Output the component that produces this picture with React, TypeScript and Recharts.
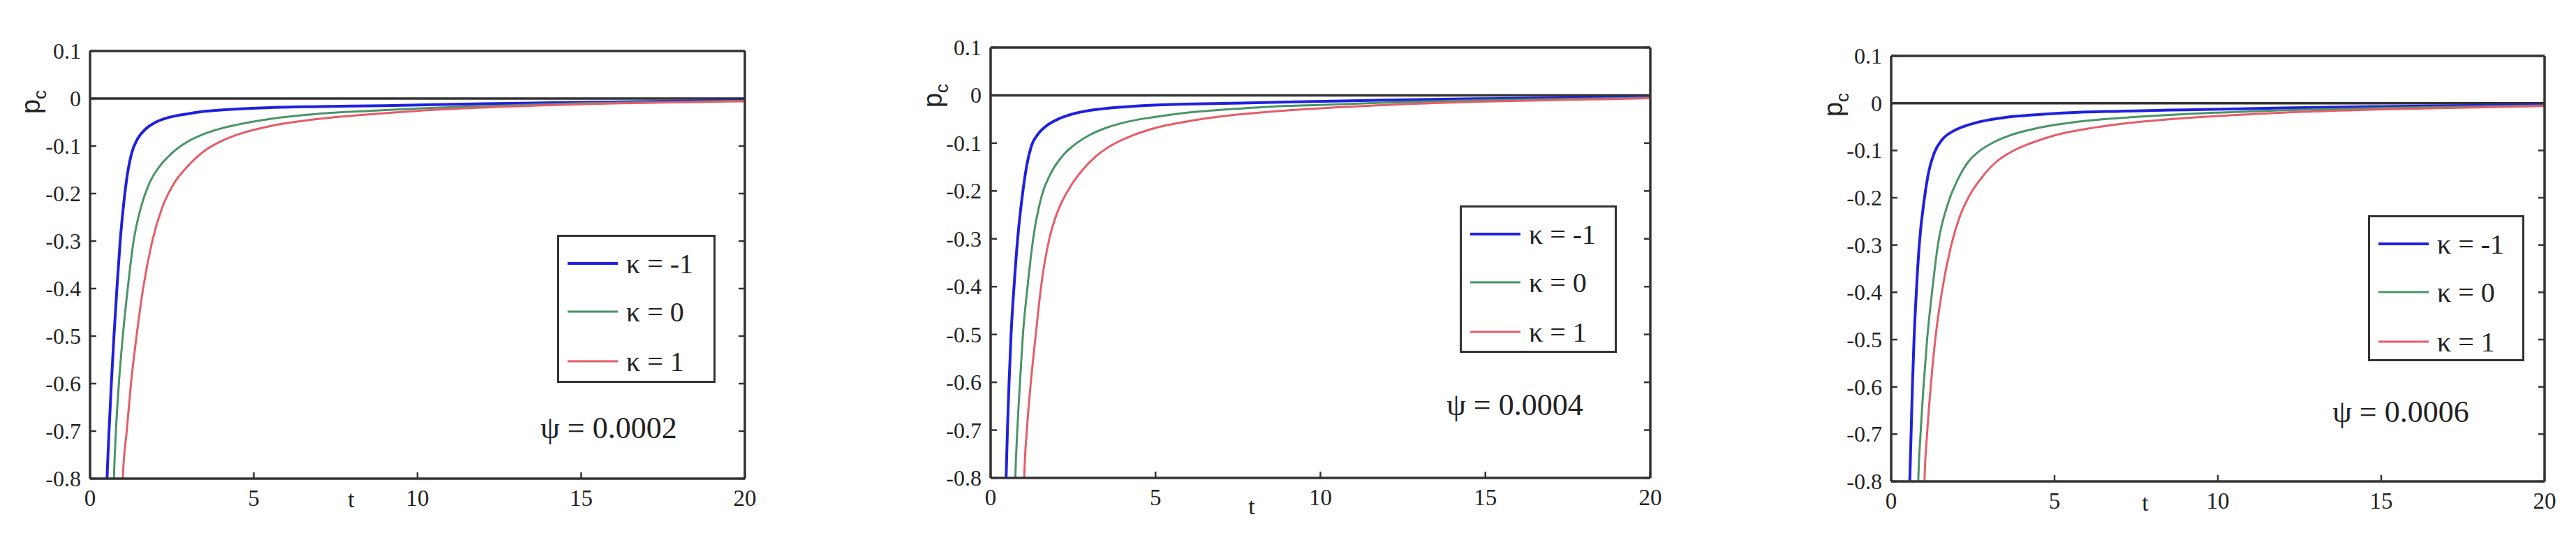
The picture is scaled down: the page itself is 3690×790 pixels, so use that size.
import React from 'react';
import { LineChart, Line, XAxis, YAxis, ReferenceLine, Legend } from 'recharts';

// axis ticks
const xTicks = [0, 5, 10, 15, 20];
const yTicks = [-0.8, -0.7, -0.6, -0.5, -0.4, -0.3, -0.2, -0.1, 0, 0.1];
const kappaNames = ['κ = -1', 'κ = 0', 'κ = 1'];
const psiLabels = ['ψ = 0.0002', 'ψ = 0.0004', 'ψ = 0.0006'];

// psi = 0.0002
const blueT1 = [0.48, 0.52, 0.58, 0.65, 0.73, 0.82, 0.92, 1.03, 1.15, 1.27, 1.45, 1.7, 2.0, 2.4, 3, 3.5, 4.5, 5.5, 7, 9, 12, 15, 20];
const blueP1 = [-0.9, -0.8, -0.7, -0.6, -0.5, -0.4, -0.3, -0.22, -0.155, -0.115, -0.085, -0.064, -0.05, -0.04, -0.032, -0.027, -0.022, -0.019, -0.017, -0.015, -0.011, -0.008, -0.004];
const greenT1 = [0.7, 0.73, 0.79, 0.88, 1.0, 1.15, 1.33, 1.55, 1.8, 2.1, 2.5, 2.95, 3.5, 4, 4.5, 5.5, 7, 8.5, 10, 12, 15, 20];
const greenP1 = [-0.9, -0.8, -0.7, -0.6, -0.5, -0.4, -0.3, -0.23, -0.18, -0.145, -0.115, -0.092, -0.074, -0.063, -0.055, -0.043, -0.032, -0.026, -0.021, -0.016, -0.01, -0.005];
const redT1 = [0.97, 1.0, 1.12, 1.25, 1.42, 1.62, 1.9, 2.2, 2.55, 2.95, 3.5, 4, 4.5, 5.5, 6.5, 7.7, 9, 10, 12, 15, 20];
const redP1 = [-0.9, -0.8, -0.7, -0.6, -0.5, -0.4, -0.3, -0.23, -0.18, -0.145, -0.11, -0.09, -0.076, -0.058, -0.047, -0.038, -0.031, -0.026, -0.019, -0.012, -0.006];

// psi = 0.0004
const blueT2 = [0.44, 0.47, 0.51, 0.56, 0.62, 0.71, 0.82, 0.98, 1.1, 1.24, 1.45, 1.75, 2.1, 2.6, 3.4, 4.5, 5.5, 7, 9, 12, 15, 20];
const blueP2 = [-0.9, -0.8, -0.7, -0.6, -0.5, -0.4, -0.3, -0.2, -0.145, -0.105, -0.08, -0.061, -0.048, -0.037, -0.028, -0.022, -0.019, -0.017, -0.014, -0.01, -0.007, -0.003];
const greenT2 = [0.72, 0.75, 0.81, 0.89, 0.98, 1.12, 1.29, 1.55, 1.85, 2.2, 2.55, 3, 3.5, 4.16, 5, 6, 7.5, 9, 10, 12, 15, 20];
const greenP2 = [-0.9, -0.8, -0.7, -0.6, -0.5, -0.4, -0.3, -0.21, -0.16, -0.125, -0.103, -0.083, -0.068, -0.055, -0.045, -0.036, -0.028, -0.022, -0.02, -0.015, -0.01, -0.005];
const redT2 = [0.99, 1.02, 1.1, 1.22, 1.37, 1.53, 1.78, 2.05, 2.38, 2.8, 3.2, 3.7, 4.3, 5, 6, 7, 8.5, 10, 12, 15, 20];
const redP2 = [-0.9, -0.8, -0.7, -0.6, -0.5, -0.4, -0.3, -0.24, -0.195, -0.155, -0.127, -0.103, -0.084, -0.068, -0.054, -0.044, -0.034, -0.027, -0.02, -0.013, -0.006];

// psi = 0.0006
const blueT3 = [0.54, 0.57, 0.61, 0.65, 0.7, 0.77, 0.86, 1.02, 1.15, 1.32, 1.55, 1.9, 2.32, 2.8, 3.5, 4.5, 5.5, 7, 9, 12, 15, 20];
const blueP3 = [-0.9, -0.8, -0.7, -0.6, -0.5, -0.4, -0.3, -0.2, -0.145, -0.105, -0.078, -0.059, -0.047, -0.038, -0.03, -0.024, -0.02, -0.017, -0.014, -0.01, -0.007, -0.003];
const greenT3 = [0.8, 0.83, 0.9, 0.99, 1.1, 1.25, 1.43, 1.75, 2.05, 2.35, 2.65, 3.1, 3.6, 4.2, 5, 6, 7.5, 9, 10, 12, 15, 20];
const greenP3 = [-0.9, -0.8, -0.7, -0.6, -0.5, -0.4, -0.3, -0.21, -0.16, -0.125, -0.104, -0.084, -0.069, -0.057, -0.046, -0.037, -0.029, -0.023, -0.02, -0.015, -0.01, -0.005];
const redT3 = [0.99, 1.02, 1.1, 1.21, 1.35, 1.55, 1.84, 2.1, 2.4, 2.8, 3.2, 3.7, 4.3, 5, 6, 7, 8.5, 10, 12, 15, 20];
const redP3 = [-0.9, -0.8, -0.7, -0.6, -0.5, -0.4, -0.3, -0.24, -0.195, -0.155, -0.125, -0.102, -0.084, -0.068, -0.054, -0.044, -0.034, -0.027, -0.02, -0.013, -0.006];

const seriesColors = ['#2020e0', '#4a9468', '#e65c68'];
const seriesWidths = [4, 3, 3];

const zip = (t: number[], p: number[]) => t.map((v, i) => ({ t: v, p: p[i] }));

const FONT = '"Liberation Serif", "Times New Roman", serif';
const INK = '#222';
const FRAME = '#333';
const TICK_LEN = 9;

interface PanelBox {
  left: number; right: number; top: number; bottom: number;
  legendX: number; legendY: number; legendW: number; legendH: number;
  psiX: number; psiY: number;
  tX: number; tY: number;
  pcX: number; pcY: number;
}

const boxes: PanelBox[] = [
  { left: 129, right: 1067, top: 73, bottom: 685, legendX: 798, legendY: 336, legendW: 227, legendH: 212, psiX: 872, psiY: 612, tX: 503, tY: 715, pcX: 48, pcY: 146 },
  { left: 1419, right: 2364, top: 68, bottom: 684, legendX: 2091, legendY: 294, legendW: 225, legendH: 211, psiX: 2170, psiY: 579, tX: 1793, tY: 725, pcX: 1340, pcY: 137 },
  { left: 2709, right: 3645, top: 80, bottom: 689, legendX: 3392, legendY: 308, legendW: 224, legendH: 209, psiX: 3439, psiY: 589, tX: 3073, tY: 720, pcX: 2630, pcY: 150 },
];

const panelData = [
  [zip(blueT1, blueP1), zip(greenT1, greenP1), zip(redT1, redP1)],
  [zip(blueT2, blueP2), zip(greenT2, greenP2), zip(redT2, redP2)],
  [zip(blueT3, blueP3), zip(greenT3, greenP3), zip(redT3, redP3)],
];

const fmtY = (v: number) => (Math.abs(v) < 1e-9 ? '0' : v.toFixed(1));

function BottomTick(props: any) {
  const { x, y, payload } = props;
  return (
    <g>
      <line x1={x} x2={x} y1={y} y2={y - TICK_LEN} stroke={FRAME} strokeWidth={2.5} />
      <text x={x} y={y + 28} textAnchor="middle" dominantBaseline="central" style={{ fontFamily: FONT, fontSize: 33 }} fill={INK}>
        {payload.value}
      </text>
    </g>
  );
}

function TopTick(props: any) {
  const { x, y } = props;
  return <line x1={x} x2={x} y1={y} y2={y + TICK_LEN} stroke={FRAME} strokeWidth={2.5} />;
}

function LeftTick(props: any) {
  const { x, y, payload } = props;
  return (
    <g>
      <line x1={x} x2={x + TICK_LEN} y1={y} y2={y} stroke={FRAME} strokeWidth={2.5} />
      <text x={x - 13} y={y} textAnchor="end" dominantBaseline="central" style={{ fontFamily: FONT, fontSize: 32 }} fill={INK}>
        {fmtY(payload.value)}
      </text>
    </g>
  );
}

function RightTick(props: any) {
  const { x, y } = props;
  return <line x1={x} x2={x - TICK_LEN} y1={y} y2={y} stroke={FRAME} strokeWidth={2.5} />;
}

function KappaLegend({ payload, w, h }: any) {
  const rows = [38, 107, 178];
  return (
    <div style={{ position: 'relative', width: w, height: h, border: `3px solid ${FRAME}`, boxSizing: 'border-box', background: '#fff' }}>
      {(payload || []).map((entry: any, i: number) => (
        <div key={i} style={{ position: 'absolute', left: 12, top: rows[i] - 24, height: 48, display: 'flex', alignItems: 'center' }}>
          <svg width={72} height={10} style={{ display: 'block' }}>
            <line x1={0} x2={72} y1={5} y2={5} stroke={entry.color} strokeWidth={seriesWidths[i]} />
          </svg>
          <span style={{ marginLeft: 12, fontFamily: FONT, fontSize: 40, color: INK, whiteSpace: 'nowrap' }}>{entry.value}</span>
        </div>
      ))}
    </div>
  );
}

function Panel({ index }: { index: number }) {
  const b = boxes[index];
  const padL = 140;
  const padR = 50;
  const chartX = b.left - padL;
  const width = b.right - b.left + padL + padR;
  const height = 790;
  const series = panelData[index];

  return (
    <>
      <div style={{ position: 'absolute', left: chartX, top: 0 }}>
        <LineChart width={width} height={height} margin={{ left: padL - 1, right: padR - 1, top: b.top - 1, bottom: height - b.bottom - 1 }}>
          <XAxis xAxisId={0} type="number" dataKey="t" domain={[0, 20]} ticks={xTicks} allowDataOverflow
            height={1} tickSize={0} tickMargin={0} tickLine={false} tick={<BottomTick />} interval={0}
            axisLine={{ stroke: FRAME, strokeWidth: 3.5 }} />
          <XAxis xAxisId="top" orientation="top" type="number" domain={[0, 20]} ticks={xTicks} allowDataOverflow
            height={1} tickSize={0} tickMargin={0} tickLine={false} tick={<TopTick />} interval={0}
            axisLine={{ stroke: FRAME, strokeWidth: 3.5 }} />
          <YAxis yAxisId={0} type="number" domain={[-0.8, 0.1]} ticks={yTicks} allowDataOverflow
            width={1} tickSize={0} tickMargin={0} tickLine={false} tick={<LeftTick />} interval={0}
            axisLine={{ stroke: FRAME, strokeWidth: 3.5 }} />
          <YAxis yAxisId="right" orientation="right" type="number" domain={[-0.8, 0.1]} ticks={yTicks} allowDataOverflow
            width={1} tickSize={0} tickMargin={0} tickLine={false} tick={<RightTick />} interval={0}
            axisLine={{ stroke: FRAME, strokeWidth: 3.5 }} />
          <ReferenceLine y={0} stroke={FRAME} strokeWidth={3.5} ifOverflow="hidden" />
          {series.map((d, i) => (
            <Line key={i} data={d} dataKey="p" name={kappaNames[i]} type="monotone"
              stroke={seriesColors[i]} strokeWidth={seriesWidths[i]} dot={false} isAnimationActive={false} />
          ))}
          <Legend layout="vertical" align="center" verticalAlign="middle"
            wrapperStyle={{ left: b.legendX - chartX, top: b.legendY, width: b.legendW, height: b.legendH }}
            content={(p: any) => <KappaLegend payload={p.payload} w={b.legendW} h={b.legendH} />} />
        </LineChart>
      </div>
      <div style={{ position: 'absolute', left: b.psiX, top: b.psiY, transform: 'translate(-50%, -50%)', fontFamily: FONT, fontSize: 44, color: INK, whiteSpace: 'nowrap' }}>
        {psiLabels[index]}
      </div>
      <div style={{ position: 'absolute', left: b.tX, top: b.tY, transform: 'translate(-50%, -50%)', fontFamily: FONT, fontSize: 34, color: INK }}>
        t
      </div>
      <div style={{ position: 'absolute', left: b.pcX, top: b.pcY, transform: 'translate(-50%, -50%) rotate(-90deg)', fontFamily: '"Liberation Sans", Arial, sans-serif', fontSize: 38, color: INK, whiteSpace: 'nowrap' }}>
        p<sub style={{ fontSize: 26 }}>c</sub>
      </div>
    </>
  );
}

export default function App() {
  return (
    <div style={{ position: 'absolute', left: 0, top: 0, width: 3690, height: 790, background: '#fff', overflow: 'hidden' }}>
      {[0, 1, 2].map((i) => (
        <Panel key={i} index={i} />
      ))}
    </div>
  );
}
